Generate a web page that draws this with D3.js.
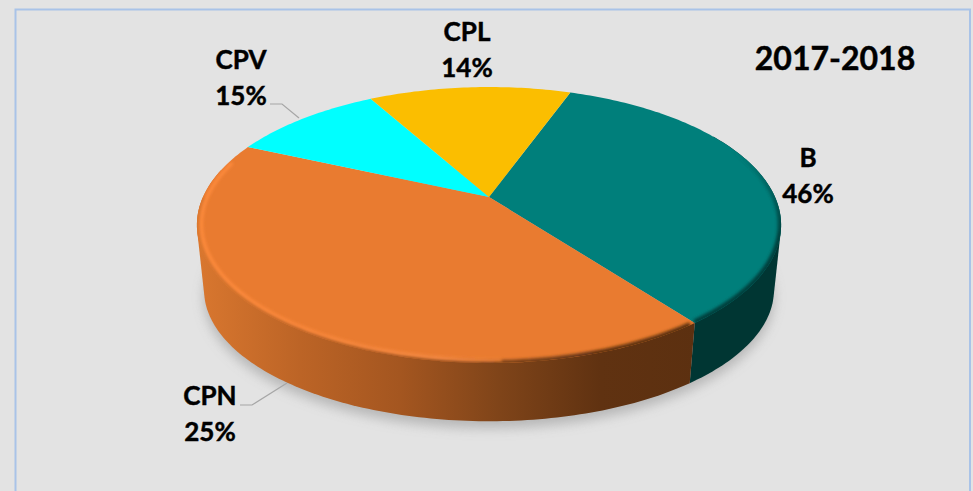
<!DOCTYPE html>
<html>
<head>
<meta charset="utf-8">
<script src="https://d3js.org/d3.v7.min.js"></script>
<style>
    html, body { margin: 0; padding: 0; background: #e3e3e3; overflow: hidden; }
    svg { display: block; }
    text { font-family: Lato, "Open Sans", sans-serif; font-weight: 700; fill: #000; stroke: #000; stroke-width: 0.45; }
</style>
</head>
<body>
<svg width="973" height="491"></svg>
<script>
// slice shares as drawn in the picture (the printed percentages do not match the drawn sizes)
var categories = ["B", "CPN", "CPV", "CPL"];
var drawnShares = [34.2, 42.0, 10.2, 13.6];
var printedLabels = ["46%", "25%", "15%", "14%"];
var title = "2017-2018";

var topColors = ["#007f7b", "#e97b30", "#00ffff", "#fbbe00"];

var svg = d3.select("svg");
var defs = svg.append("defs");
var W = 973, H = 491;

// frame
svg.append("path")
    .attr("d", "M15.5," + H + "V9.5H970V" + H)
    .attr("fill", "none")
    .attr("stroke", "#a9c3e8")
    .attr("stroke-width", 2);

// perspective projection of the unit disc
var tilt = 0.203;
var topX = d3.scaleLinear().domain([-1, 1]).range([489 - 286, 489 + 286]);
var topY = d3.scaleLinear().domain([-1, 1]).range([197 - 132.3, 197 + 132.3]);
var baseX = d3.scaleLinear().domain([-1, 1]).range([489 - 279, 489 + 279]);
var baseY = d3.scaleLinear().domain([-1, 1]).range([263.4 - 125.8, 263.4 + 125.8]);

function project(angle, sx, sy, k) {
    var u = Math.sin(angle) * k, v = -Math.cos(angle) * k;
    var w = 1 - tilt * v;
    return [sx(u / w), sy(v / w)];
}
function rad(deg) { return deg * Math.PI / 180; }
function arcPoints(a0, a1, sx, sy, k) {
    var n = Math.max(2, Math.ceil(Math.abs(a1 - a0) / rad(1)));
    return d3.range(n + 1).map(function (i) {
        return project(a0 + (a1 - a0) * i / n, sx, sy, k === undefined ? 1 : k);
    });
}
var line = d3.line();

var pie = d3.pie().sort(null).startAngle(rad(19.8)).endAngle(rad(379.8));
var slices = pie(drawnShares);

function horizGradient(id, stops) {
    var g = defs.append("linearGradient").attr("id", id)
        .attr("gradientUnits", "userSpaceOnUse")
        .attr("x1", 197).attr("x2", 781).attr("y1", 0).attr("y2", 0);
    stops.forEach(function (s) {
        g.append("stop").attr("offset", (s[0] - 197) / 584).attr("stop-color", s[1]);
    });
}
horizGradient("sideOrange", [[197, "#d9772f"], [300, "#bc6426"], [400, "#a45620"],
    [500, "#7f4419"], [600, "#603211"], [700, "#5c3010"]]);
horizGradient("rimOrange", [[197, "#ff8c3e"], [300, "#ff8a3c"], [440, "#ff9048"],
    [500, "#f08238"], [560, "#e97b30"], [700, "#e97b30"]]);

// teal rim only darkens from the right shoulder downwards
var tealFade = defs.append("linearGradient").attr("id", "tealFade")
    .attr("gradientUnits", "userSpaceOnUse")
    .attr("x1", 0).attr("x2", 0).attr("y1", 150).attr("y2", 235);
tealFade.append("stop").attr("offset", 0).attr("stop-color", "#00413e").attr("stop-opacity", 0);
tealFade.append("stop").attr("offset", 1).attr("stop-color", "#00413e").attr("stop-opacity", 1);

defs.append("filter").attr("id", "shadowBlur")
    .attr("x", "-10%").attr("y", "-10%").attr("width", "120%").attr("height", "120%")
    .append("feGaussianBlur").attr("stdDeviation", 6);
defs.append("filter").attr("id", "rimBlur")
    .attr("filterUnits", "userSpaceOnUse")
    .attr("x", 0).attr("y", 0).attr("width", W).attr("height", H)
    .append("feGaussianBlur").attr("stdDeviation", 1.5);

// soft shadow under the disc
svg.append("path")
    .attr("d", line(arcPoints(0, 2 * Math.PI, baseX, baseY)) + "Z")
    .attr("transform", "translate(0,7)")
    .attr("fill", "#a8a8a8")
    .attr("opacity", 0.75)
    .attr("filter", "url(#shadowBlur)");

// side wall, only the slices facing the viewer; the hull gives the straight tangent at the shoulders
var sides = [
    { from: slices[0].startAngle + rad(40), to: slices[0].endAngle, fill: "#003633" },
    { from: slices[1].startAngle, to: rad(282), fill: "url(#sideOrange)" }
];
svg.selectAll(".side").data(sides).enter().append("path")
    .attr("class", "side")
    .attr("fill", function (d) { return d.fill; })
    .attr("d", function (d) {
        var upper = arcPoints(d.from, d.to, topX, topY);
        var lower = arcPoints(d.to, d.from, baseX, baseY);
        return line(d3.polygonHull(upper.concat(lower))) + "Z";
    });

// top faces
function facePath(d) {
    var pts = arcPoints(d.startAngle, d.endAngle, topX, topY);
    pts.push(project(0, topX, topY, 0));
    return line(pts) + "Z";
}
svg.selectAll(".face").data(slices).enter().append("path")
    .attr("class", "face")
    .attr("fill", function (d, i) { return topColors[i]; })
    .attr("d", facePath);

// bevel along the front of the rim: side colour at the edge, highlight just inside it
var bevelClip = defs.append("clipPath").attr("id", "bevelClip");
bevelClip.append("path").attr("d", line(arcPoints(0, 2 * Math.PI, topX, topY)) + "Z");

var bevels = [
    { from: slices[0].startAngle + rad(30), to: slices[0].endAngle, color: "url(#tealFade)", k: 1, w: 7 },
    { from: slices[1].startAngle + rad(1), to: rad(270), color: "url(#sideOrange)", k: 1, w: 6 },
    { from: slices[1].startAngle + rad(35), to: rad(286), color: "url(#rimOrange)", k: 0.985, w: 3 }
];
svg.append("g").attr("clip-path", "url(#bevelClip)")
    .selectAll("path").data(bevels).enter().append("path")
    .attr("fill", "none")
    .attr("stroke", function (d) { return d.color; })
    .attr("stroke-width", function (d) { return d.w; })
    .attr("filter", "url(#rimBlur)")
    .attr("d", function (d) { return line(arcPoints(d.from, d.to, topX, topY, d.k)); });

// leader lines
var leaders = [
    [[270, 104], [282, 104], [299, 118]],
    [[240, 405], [252, 405], [287, 383]]
];
svg.selectAll(".leader").data(leaders).enter().append("path")
    .attr("class", "leader")
    .attr("fill", "none")
    .attr("stroke", "#a6a6a6")
    .attr("stroke-width", 1.2)
    .attr("d", line);

// labels
var labelSpots = [[808, 167, 203], [210, 405, 441], [241, 69, 105], [467, 41, 77]];
categories.forEach(function (name, i) {
    var p = labelSpots[i];
    svg.append("text").attr("x", p[0]).attr("y", p[1])
        .attr("text-anchor", "middle").attr("font-size", 26).text(name);
    svg.append("text").attr("x", p[0]).attr("y", p[2])
        .attr("text-anchor", "middle").attr("font-size", 26).text(printedLabels[i]);
});

svg.append("text").attr("x", 835).attr("y", 70)
    .attr("text-anchor", "middle").attr("font-size", 32).text(title);
</script>
</body>
</html>
